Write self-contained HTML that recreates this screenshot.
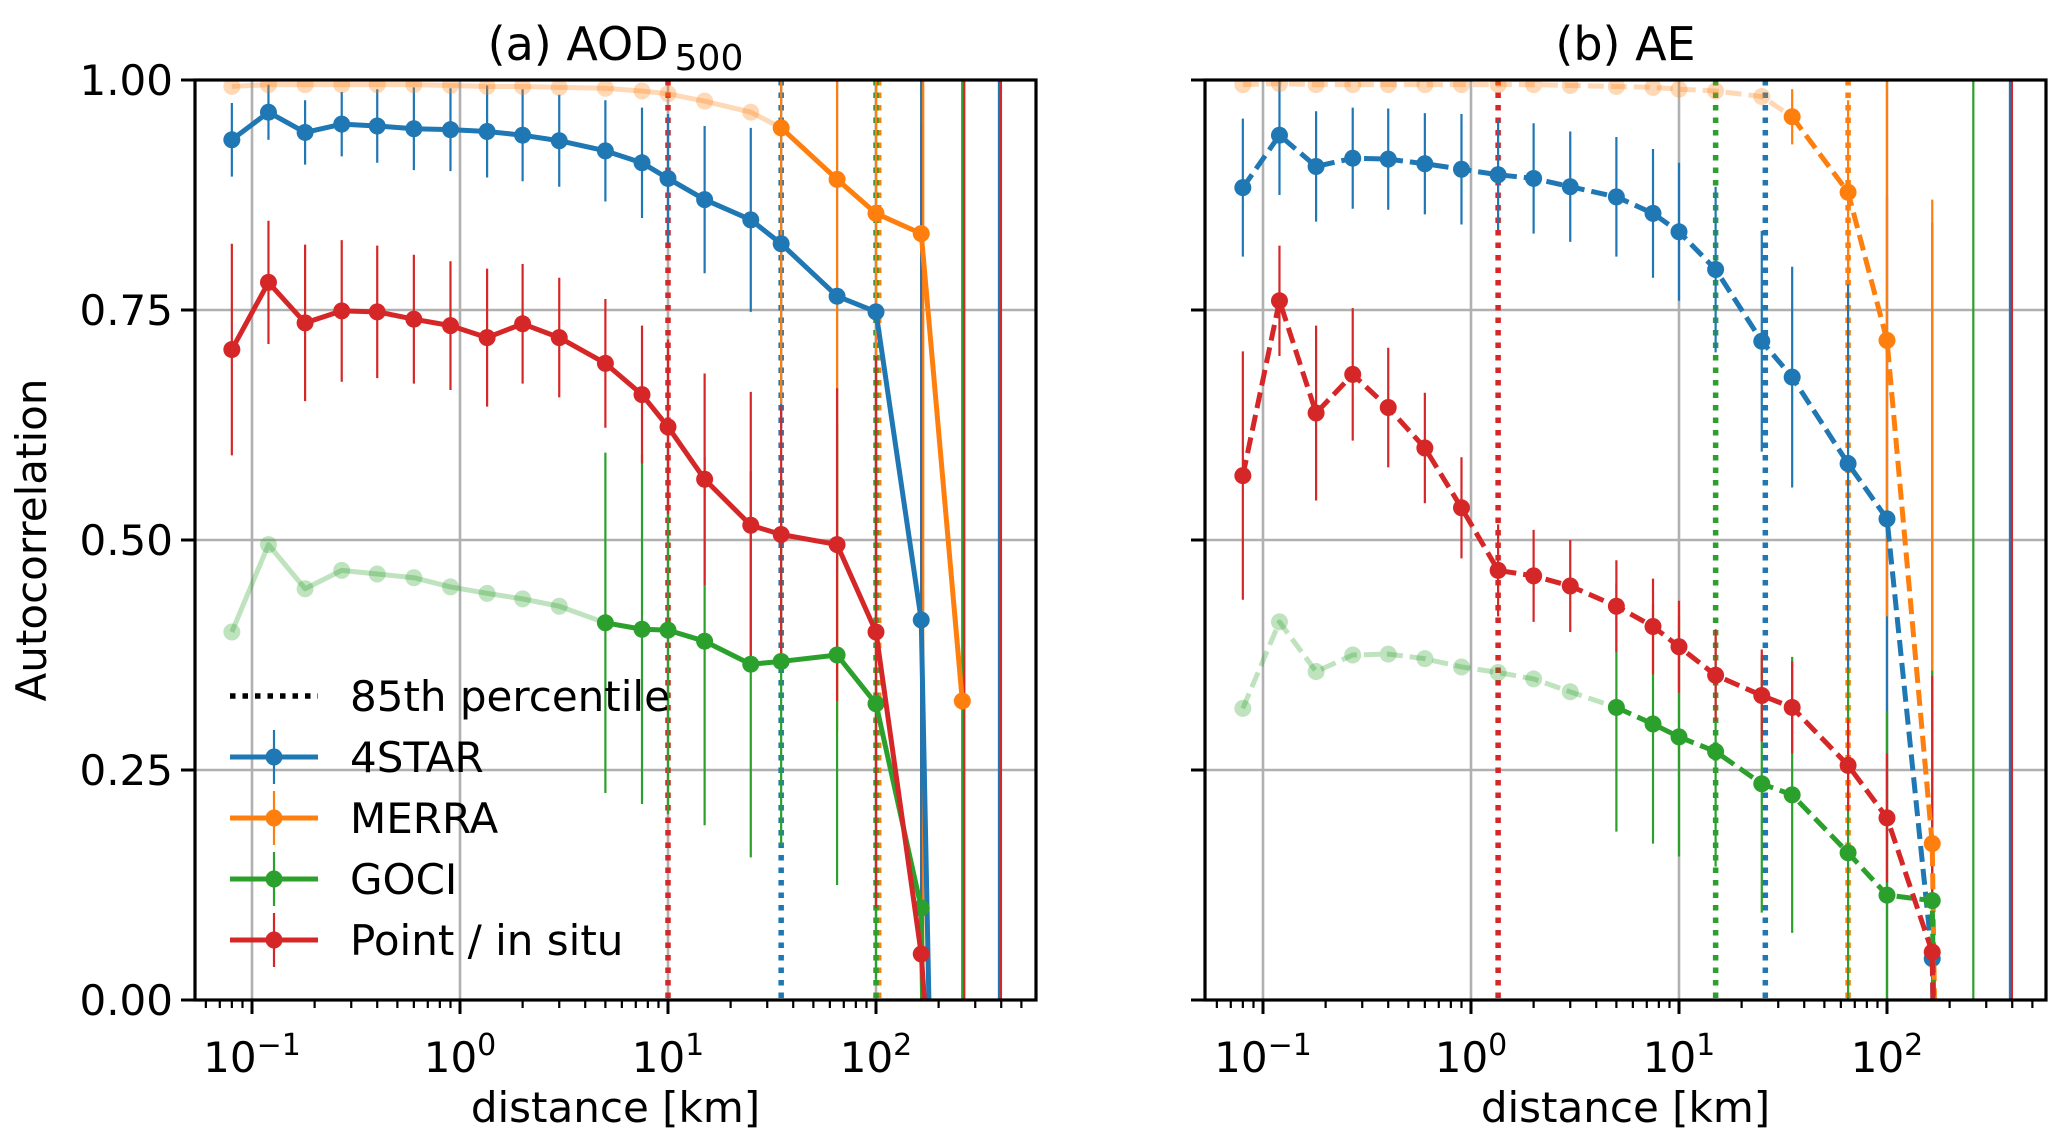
<!DOCTYPE html>
<html><head><meta charset="utf-8"><style>
html,body{margin:0;padding:0;background:#fff;overflow:hidden;}
svg{display:block;font-family:"DejaVu Sans","Liberation Sans",sans-serif;}
</style></head><body>
<svg id="chart" width="2067" height="1147" viewBox="0 0 2067 1147"></svg>
<script>
const xDist=[0.08,0.12,0.18,0.27,0.4,0.6,0.9,1.35,2,3,5,7.5,10,15,25,35,65,100,165,260];
// Panel a (AOD500)
const aBlue=[0.935,0.965,0.943,0.952,0.95,0.947,0.946,0.944,0.94,0.934,0.923,0.91,0.893,0.87,0.848,0.822,0.765,0.748,0.413,-1.8];
const aBlueErr=[0.04,0.03,0.035,0.035,0.04,0.045,0.045,0.05,0.05,0.05,0.055,0.06,0.07,0.08,0.1,0.2,0.3,0.35,1.5,0];
const aOrange=[0.993,0.995,0.995,0.995,0.995,0.995,0.994,0.993,0.993,0.992,0.991,0.988,0.985,0.977,0.965,0.948,0.892,0.855,0.833,0.325];
const aOrangeErr=[0,0,0,0,0,0,0,0,0,0,0,0,0,0,0,0.3,0.6,0.6,1.5,0.7];
const aGreen=[0.4,0.495,0.447,0.467,0.463,0.459,0.449,0.442,0.436,0.428,0.41,0.403,0.402,0.39,0.365,0.368,0.375,0.322,0.1,-3];
const aGreenErr=[0,0,0,0,0,0,0,0,0,0,0.185,0.19,0.2,0.2,0.21,0.2,0.25,0.3,0.3,0];
const aRed=[0.707,0.78,0.736,0.749,0.748,0.74,0.733,0.72,0.735,0.72,0.692,0.658,0.623,0.566,0.516,0.506,0.495,0.4,0.05,-0.6];
const aRedErr=[0.115,0.067,0.085,0.077,0.072,0.07,0.07,0.075,0.065,0.065,0.07,0.075,0.095,0.115,0.145,0.14,0.17,0.3,0.9,0];
const aFade=[0,15,10,0];
const aPct=[35,103,100,10];
const aFull=[[165,0],[165,1],[260,2],[260,3],[390,0],[390,3]];
// Panel b (AE)
const bBlue=[0.883,0.94,0.906,0.915,0.914,0.909,0.903,0.897,0.893,0.884,0.873,0.855,0.835,0.794,0.716,0.677,0.583,0.523,0.045,-3];
const bBlueErr=[0.075,0.065,0.06,0.055,0.055,0.055,0.06,0.06,0.06,0.06,0.065,0.07,0.075,0.09,0.12,0.12,0.25,0.35,0.8,0];
const bOrange=[0.995,0.996,0.995,0.995,0.995,0.995,0.995,0.995,0.995,0.994,0.993,0.992,0.99,0.988,0.982,0.96,0.878,0.717,0.17,-3];
const bOrangeErr=[0,0,0,0,0,0,0,0,0,0,0,0,0,0,0,0.03,0.1,0.3,0.7,0];
const bGreen=[0.317,0.411,0.357,0.375,0.376,0.371,0.362,0.356,0.349,0.335,0.318,0.3,0.286,0.27,0.235,0.223,0.16,0.114,0.108,-3];
const bGreenErr=[0,0,0,0,0,0,0,0,0,0,0.135,0.13,0.13,0.125,0.14,0.15,0.2,0.2,0.25,0];
const bRed=[0.57,0.76,0.638,0.68,0.644,0.6,0.535,0.467,0.461,0.45,0.428,0.406,0.384,0.353,0.331,0.318,0.255,0.198,0.052,-3];
const bRedErr=[0.135,0.06,0.095,0.072,0.065,0.06,0.055,0.05,0.05,0.05,0.05,0.052,0.05,0.05,0.05,0.05,0.05,0.07,0.3,0];
const bFade=[0,15,10,0];
const bPct=[26,65,15,1.35];
const bFull=[[260,2],[390,0],[390,3]];
const yTicks=[0,0.25,0.5,0.75,1.0];
const yTickLabels=["0.00","0.25","0.50","0.75","1.00"];
const xMajor=[-1,0,1,2];
const colors=["#1f77b4","#ff7f0e","#2ca02c","#d62728"];
const seriesNames=["4STAR","MERRA","GOCI","Point / in situ"];

const NS="http://www.w3.org/2000/svg";
const svg=document.getElementById('chart');
function mk(tag,attrs,parent){const e=document.createElementNS(NS,tag);for(const k in attrs)e.setAttribute(k,attrs[k]);(parent||svg).appendChild(e);return e;}
const TOP=80,BOT=1000,FS=42;
function yS(v){return BOT-(BOT-TOP)*v;}
function panel(L,R,x10m1,title,vals,errs,fades,pcts,full,dashed,showY,pname){
  const g=mk('g',{});
  
  
  const dec=208;
  const xS=d=>x10m1+(Math.log10(d)+1)*dec;
  const clipId='clip-'+pname;
  const cp=mk('clipPath',{id:clipId},g);mk('rect',{x:L,y:TOP,width:R-L,height:BOT-TOP},cp);
  const grid=mk('g',{},g);
  
  
  xMajor.forEach(p=>mk('line',{x1:xS(Math.pow(10,p)),x2:xS(Math.pow(10,p)),y1:TOP,y2:BOT,stroke:'#b0b0b0','stroke-width':2.6},grid));
  yTicks.forEach(v=>mk('line',{x1:L,x2:R,y1:yS(v),y2:yS(v),stroke:'#b0b0b0','stroke-width':2.6},grid));
  const data=mk('g',{'clip-path':'url(#'+clipId+')'},g);
  pcts.forEach((p,i)=>{const l=mk('line',{x1:xS(p),x2:xS(p),y1:TOP,y2:BOT,stroke:colors[i],'stroke-width':5.5,'stroke-dasharray':'5.5 7'},data);
    
    });
  vals.forEach((vs,si)=>{vs.forEach((v,i)=>{const e=errs[si][i];if(e<=0)return;
    const op=i<fades[si]?0.3:1;
    const l=mk('line',{x1:xS(xDist[i]),x2:xS(xDist[i]),y1:yS(v-e),y2:yS(v+e),stroke:colors[si],'stroke-width':2.2,opacity:op},data);
    
    });});
  full.forEach(([d,c],k)=>{const off=(k>0&&full[k-1][0]===d)?2:0;
    const l=mk('line',{x1:xS(d)+off,x2:xS(d)+off,y1:TOP,y2:BOT,stroke:colors[c],'stroke-width':2.2},data);
    
    });
  vals.forEach((vs,si)=>{
    const f=fades[si];
    const pts=vs.map((v,i)=>[xS(xDist[i]),yS(v)]);
    const sg=mk('g',{},data);
    
    
    const dash=dashed?'16 7':'none';
    if(f>0){mk('polyline',{points:pts.slice(0,f+1).map(q=>q.join(',')).join(' '),fill:'none',stroke:colors[si],'stroke-width':5,opacity:0.3,'stroke-dasharray':dash,'stroke-linejoin':'round'},sg);}
    mk('polyline',{points:pts.slice(f).map(q=>q.join(',')).join(' '),fill:'none',stroke:colors[si],'stroke-width':5,'stroke-dasharray':dash,'stroke-linejoin':'round'},sg);
    pts.forEach((q,i)=>{if(vs[i]<0)return;const c=mk('circle',{cx:q[0],cy:q[1],r:8.5,fill:colors[si],opacity:i<f?0.3:1},sg);
      
      });
  });
  mk('rect',{x:L,y:TOP,width:R-L,height:BOT-TOP,fill:'none',stroke:'#000','stroke-width':3.2},g);
  yTicks.forEach((v,i)=>{mk('line',{x1:L-14,x2:L,y1:yS(v),y2:yS(v),stroke:'#000','stroke-width':3},g);
    if(showY){const t=mk('text',{x:L-22,y:yS(v)+15,'text-anchor':'end','font-size':FS},g);t.textContent=yTickLabels[i];
      
      }});
  const lo=Math.pow(10,-1-(x10m1-L)/dec),hi=Math.pow(10,-1+(R-x10m1)/dec);
  for(let p=-2;p<=3;p++){for(let m=1;m<10;m++){const d=m*Math.pow(10,p);if(d<lo||d>hi)continue;
    const major=m===1;mk('line',{x1:xS(d),x2:xS(d),y1:BOT,y2:BOT+(major?14:8),stroke:'#000','stroke-width':major?3:2.2},g);}}
  xMajor.forEach(p=>{const t=mk('text',{x:xS(Math.pow(10,p)),y:1072,'text-anchor':'middle','font-size':FS},g);
    
    
    t.appendChild(document.createTextNode('10'));const s=mk('tspan',{dy:-17,'font-size':30},t);s.textContent=p<0?'\u22121':String(p);});
  const xl=mk('text',{x:(L+R)/2,y:1122,'text-anchor':'middle','font-size':FS},g);xl.textContent='distance [km]';
  
  
  const tt=mk('text',{x:(L+R)/2,y:60,'text-anchor':'middle','font-size':46},g);
  
  
  tt.innerHTML=title;
}
panel(195,1036,252,'(a) AOD<tspan dx="6" dy="10" font-size="36">500</tspan>',[aBlue,aOrange,aGreen,aRed],[aBlueErr,aOrangeErr,aGreenErr,aRedErr],aFade,aPct,aFull,false,true,'panel-aod');
panel(1205,2046,1263,'(b) AE',[bBlue,bOrange,bGreen,bRed],[bBlueErr,bOrangeErr,bGreenErr,bRedErr],bFade,bPct,bFull,true,false,'panel-ae');
const yl=mk('text',{x:0,y:0,transform:'translate(46,540) rotate(-90)','text-anchor':'middle','font-size':FS});
yl.textContent='Autocorrelation';


const lg=mk('g',{});


const rows=[696,757,818,879,940];
mk('line',{x1:230,x2:318,y1:rows[0],y2:rows[0],stroke:'#000','stroke-width':5.5,'stroke-dasharray':'5.5 7'},lg);
const t0=mk('text',{x:350,y:rows[0]+15,'font-size':FS},lg);t0.textContent='85th percentile';


seriesNames.forEach((n,i)=>{const y=rows[i+1];
  mk('line',{x1:230,x2:318,y1:y,y2:y,stroke:colors[i],'stroke-width':5},lg);
  mk('line',{x1:274,x2:274,y1:y-27,y2:y+27,stroke:colors[i],'stroke-width':2.2},lg);
  mk('circle',{cx:274,cy:y,r:8.5,fill:colors[i]},lg);
  const t=mk('text',{x:350,y:y+15,'font-size':FS},lg);t.textContent=n;
  
  });
</script>
</body></html>
